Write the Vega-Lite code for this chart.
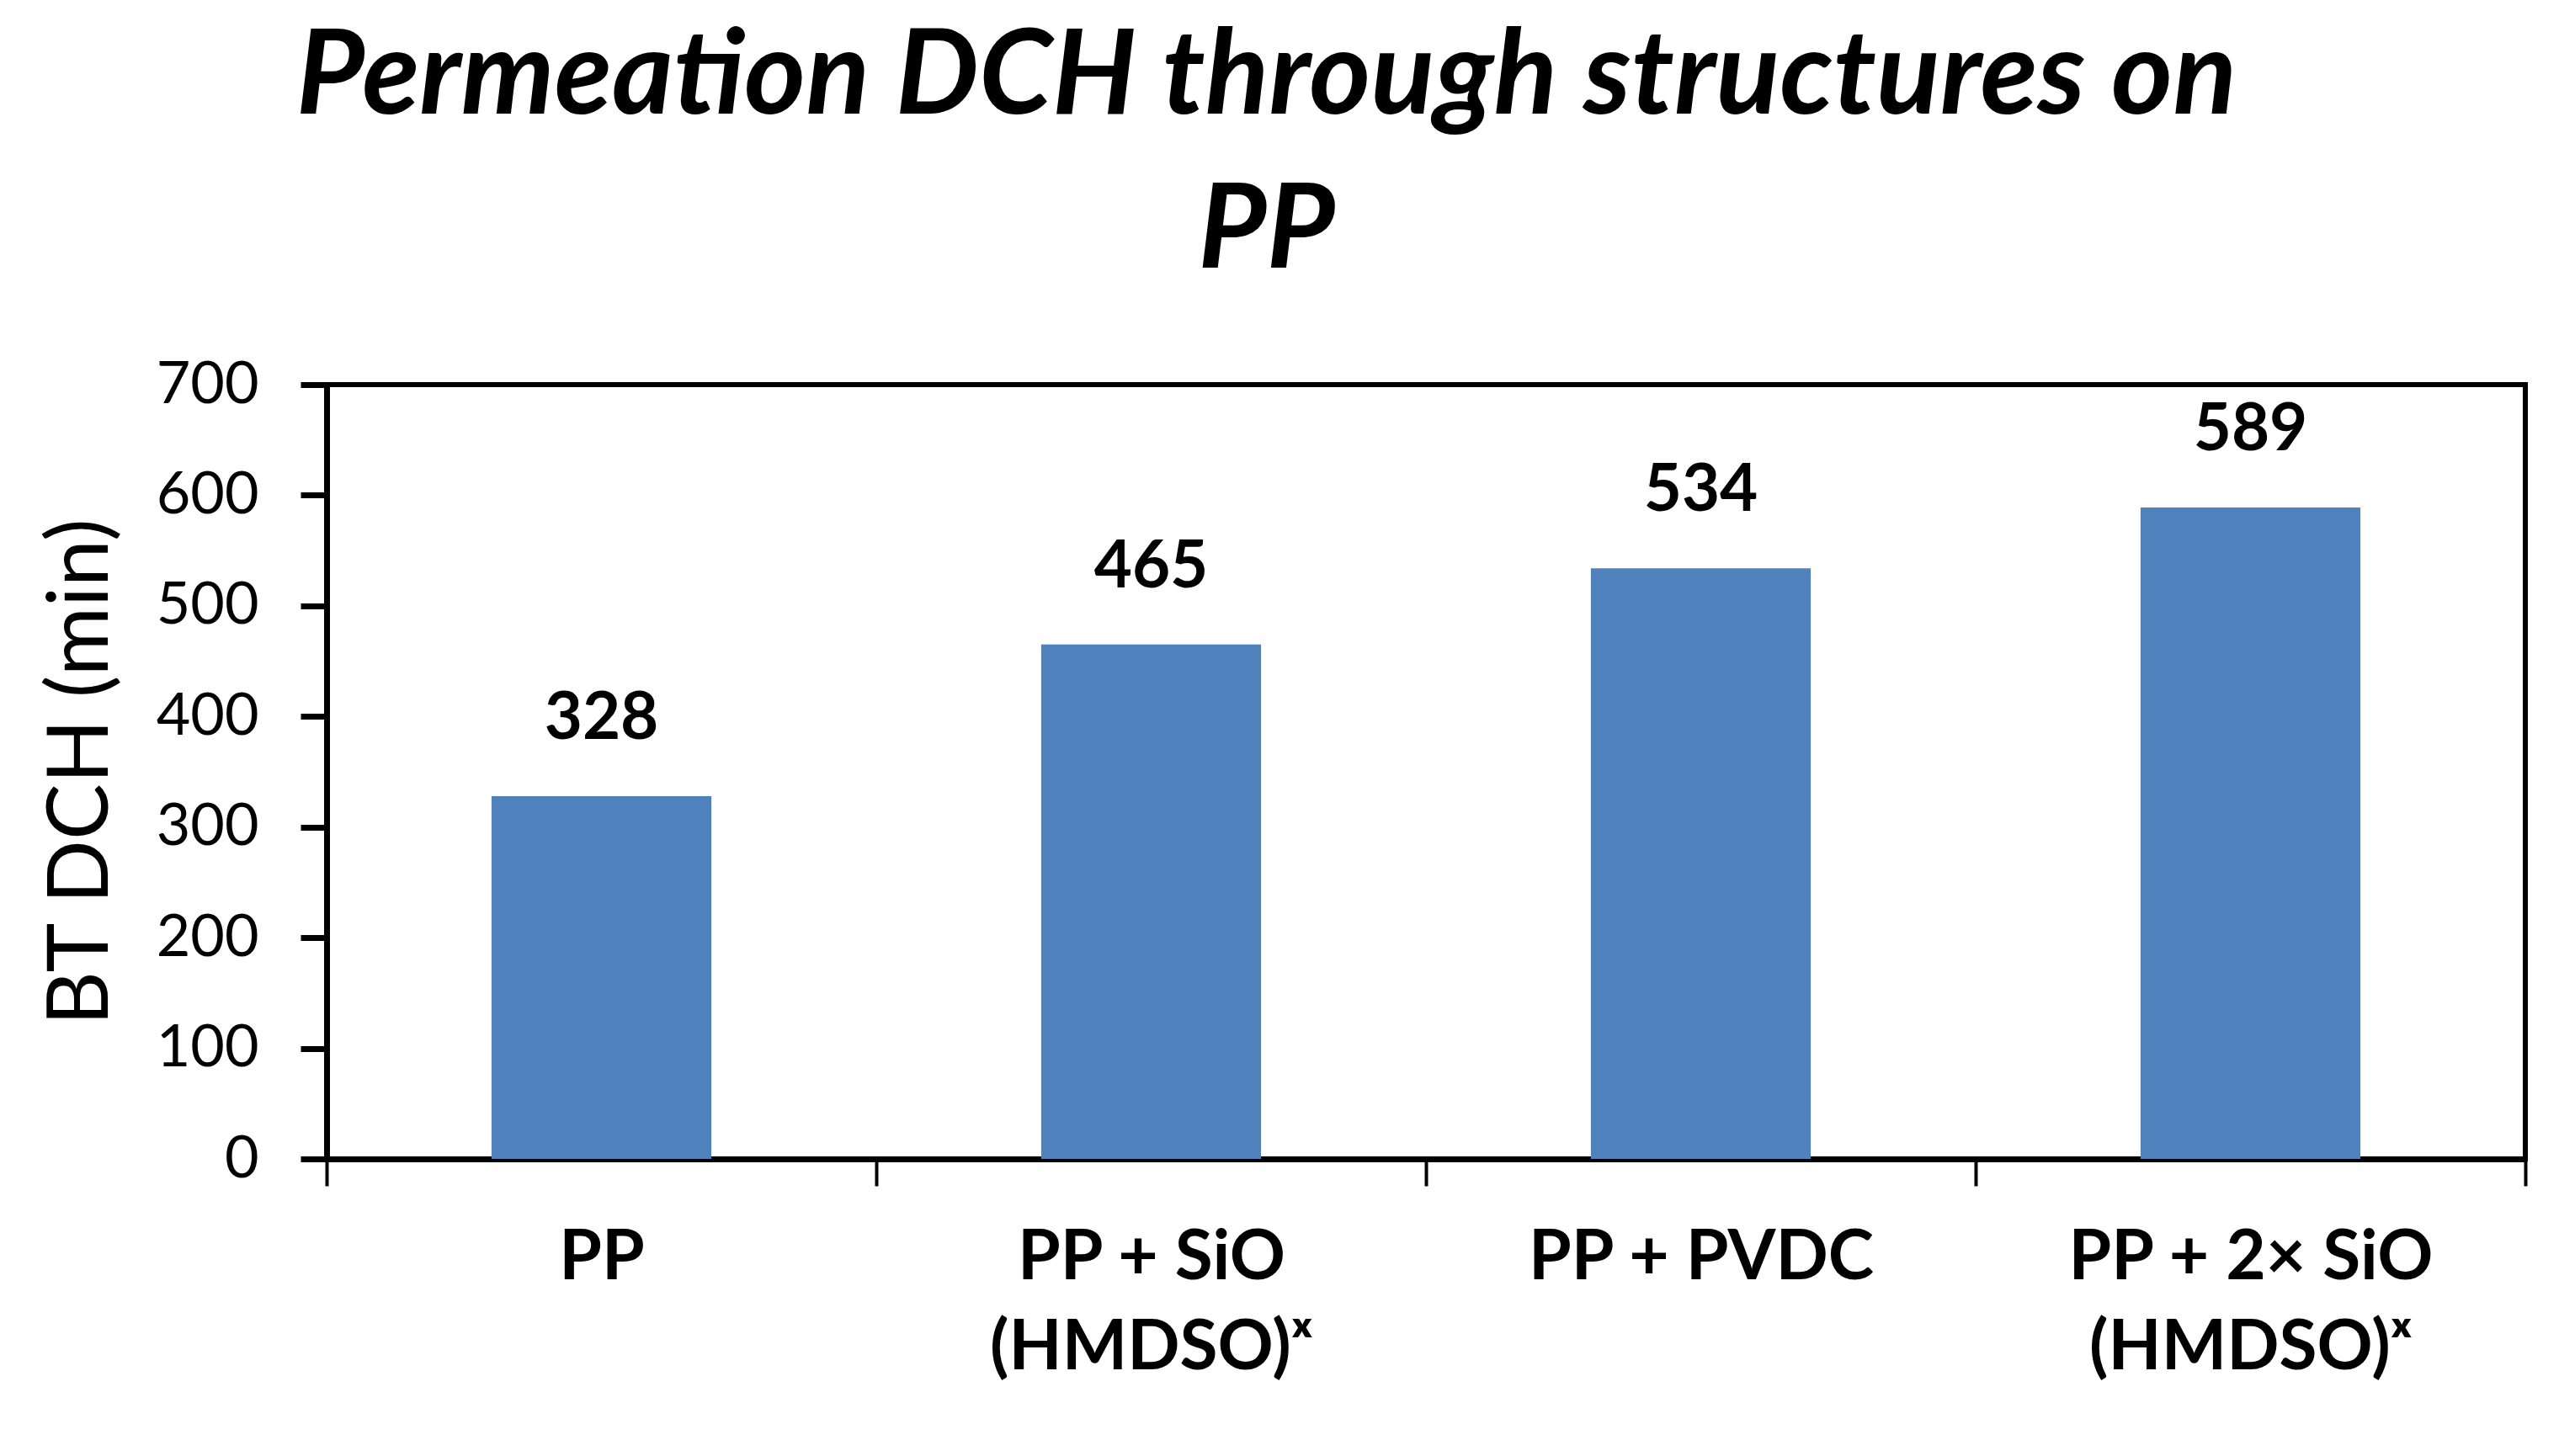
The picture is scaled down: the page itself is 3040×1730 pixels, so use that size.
{
  "$schema": "https://vega.github.io/schema/vega-lite/v6.json",
  "width": 2612,
  "height": 920,
  "autosize": {"type": "none"},
  "padding": {"left": 388, "top": 457, "right": 40, "bottom": 353},
  "background": "white",
  "title": {
    "text": ["Permeation DCH through structures on", "PP"],
    "font": "Lato",
    "fontSize": 140,
    "fontWeight": "bold",
    "fontStyle": "italic",
    "color": "black",
    "lineHeight": 183,
    "anchor": "middle",
    "frame": "bounds",
    "dx": -20,
    "offset": 75
  },
  "data": {
    "values": [
      {"structure": "PP", "bt": 328},
      {"structure": "PP + SiO|(HMDSO)ˣ", "bt": 465},
      {"structure": "PP + PVDC", "bt": 534},
      {"structure": "PP + 2× SiO|(HMDSO)ˣ", "bt": 589}
    ]
  },
  "encoding": {
    "x": {
      "field": "structure",
      "type": "nominal",
      "sort": null,
      "title": null,
      "scale": {"paddingInner": 0, "paddingOuter": 0},
      "axis": {
        "labelExpr": "split(datum.label, '|')",
        "labelAngle": 0,
        "labelFont": "Lato",
        "labelFontWeight": "bold",
        "labelFontSize": 82,
        "labelColor": "black",
        "labelLineHeight": 107,
        "labelBaseline": "top",
        "labelPadding": 45,
        "labelLimit": 0,
        "tickBand": "extent",
        "tickSize": 32,
        "tickWidth": 4,
        "tickColor": "black",
        "domainColor": "black",
        "domainWidth": 7
      }
    },
    "y": {
      "field": "bt",
      "type": "quantitative",
      "title": "BT DCH (min)",
      "scale": {"domain": [0, 700], "nice": false},
      "axis": {
        "values": [0, 100, 200, 300, 400, 500, 600, 700],
        "grid": false,
        "labelFont": "Lato",
        "labelFontSize": 70,
        "labelColor": "black",
        "labelPadding": 50,
        "tickSize": 31,
        "tickWidth": 7,
        "tickColor": "black",
        "domainColor": "black",
        "domainWidth": 7,
        "titleFont": "Lato",
        "titleFontSize": 100,
        "titleFontWeight": "normal",
        "titleColor": "black",
        "titlePadding": 40
      }
    }
  },
  "layer": [
    {
      "mark": {"type": "bar", "color": "#4F81BD", "width": {"band": 0.4}}
    },
    {
      "mark": {
        "type": "text",
        "font": "Lato",
        "fontSize": 78,
        "fontWeight": "bold",
        "color": "black",
        "baseline": "bottom",
        "dy": -52
      },
      "encoding": {"text": {"field": "bt", "type": "quantitative"}}
    }
  ],
  "config": {
    "view": {"stroke": "black", "strokeWidth": 6}
  }
}
